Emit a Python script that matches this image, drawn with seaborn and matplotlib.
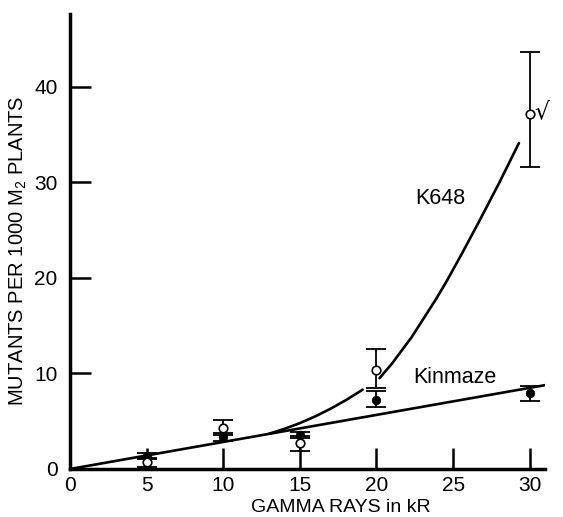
import numpy as np
import pandas as pd
import matplotlib
matplotlib.use("Agg")
import matplotlib.pyplot as plt
import seaborn as sns

# ---- data ----
dose = [5, 10, 15, 20, 30]

k648_mean = [0.7, 4.3, 2.7, 10.4, 37.1]
k648_low = [0.25, 3.6, 1.9, 8.5, 31.6]
k648_high = [1.1, 5.1, 3.5, 12.6, 43.6]

kin_mean = [1.35, 3.4, 3.6, 7.2, 7.9]
kin_low = [1.0, 2.9, 3.2, 6.5, 7.1]
kin_high = [1.7, 3.8, 3.9, 8.2, 8.7]

# fitted curves as drawn
kin_line_x = [0, 31.1]
kin_line_y = [0, 8.8]
k648_curve1_x = [13.0, 14.0, 15.0, 16.0, 17.0, 18.0, 19.1]
k648_curve1_y = [3.7, 4.2, 4.8, 5.5, 6.3, 7.2, 8.3]
k648_curve2_x = [20.2, 21.0, 22.3, 23.9, 24.6, 25.6, 26.7, 28.0, 29.3]
k648_curve2_y = [9.5, 11.0, 13.8, 17.8, 19.7, 22.6, 25.9, 29.9, 34.1]

sns.set_style("ticks")
plt.rcParams["font.family"] = ["Liberation Sans", "DejaVu Sans"]
plt.rcParams["mathtext.default"] = "regular"
for key in ["text.color", "axes.labelcolor", "xtick.color", "ytick.color", "axes.edgecolor"]:
    plt.rcParams[key] = "black"

fig = plt.figure(figsize=(5.63, 5.17), dpi=100)
ax = fig.add_axes([70 / 563, 1 - 469 / 517, 475 / 563, 455 / 517])

# curves
sns.lineplot(x=kin_line_x, y=kin_line_y, ax=ax, color="black", lw=1.9)
sns.lineplot(x=k648_curve1_x, y=k648_curve1_y, ax=ax, color="black", lw=1.9,
             sort=False, estimator=None)
sns.lineplot(x=k648_curve2_x, y=k648_curve2_y, ax=ax, color="black", lw=1.9,
             sort=False, estimator=None)

# error bars
for mean, low, high in [(k648_mean, k648_low, k648_high), (kin_mean, kin_low, kin_high)]:
    m = np.array(mean)
    err = [m - np.array(low), np.array(high) - m]
    ax.errorbar(dose, m, yerr=err, fmt="none", ecolor="black",
                elinewidth=1.3, capsize=7, capthick=1.3)

# points
sns.scatterplot(x=dose, y=kin_mean, ax=ax, color="black", edgecolor="black",
                s=38, marker="o", zorder=5)
sns.scatterplot(x=dose, y=k648_mean, ax=ax, color="white", edgecolor="black",
                linewidth=1.2, s=38, marker="o", zorder=5)

ax.text(24.2, 28.3, "K648", fontsize=15.5, ha="center", va="center")
ax.text(22.4, 9.6, "Kinmaze", fontsize=15.5, ha="left", va="center")
ax.text(30.3, 37.4, "√", fontsize=17, ha="left", va="center",
        family=["DejaVu Sans"])

ax.set_xlim(0, 31)
ax.set_ylim(0, 47.6)
ax.set_xticks([0, 5, 10, 15, 20, 25, 30])
ax.set_yticks([0, 10, 20, 30, 40])
ax.tick_params(direction="in", length=15, width=1.8, labelsize=15)
ax.tick_params(axis="x", pad=5)
ax.tick_params(axis="y", pad=9)
for side in ["left", "bottom"]:
    ax.spines[side].set_linewidth(2.5)
sns.despine(ax=ax)

ax.set_xlabel("GAMMA RAYS in kR", fontsize=14)
ax.xaxis.set_label_coords(0.57, -0.066)
ax.set_ylabel("MUTANTS PER 1000 M$_2$ PLANTS", fontsize=14.5)
ax.yaxis.set_label_coords(-0.087, 0.48)

fig.savefig("out.png", dpi=100)
